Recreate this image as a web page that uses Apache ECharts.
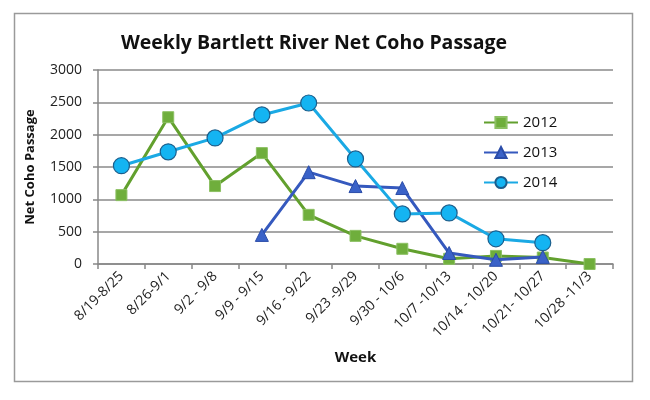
<!DOCTYPE html>
<html><head><meta charset="utf-8">
<script src="https://cdn.jsdelivr.net/npm/echarts@6/dist/echarts.min.js"></script>
<style>html,body{margin:0;padding:0;background:#fff}#c{width:650px;height:400px}</style>
</head><body><div id="c"></div>
<script>
const weeks = ['8/19-8/25','8/26-9/1','9/2 - 9/8','9/9 - 9/15','9/16 - 9/22','9/23 -9/29','9/30 - 10/6','10/7 -10/13','10/14 - 10/20','10/21- 10/27','10/28 -11/3'];
const y2012 = [1065, 2270, 1205, 1715, 760, 435, 235, 80, 125, 100, 0];
const y2013 = [null, null, null, 450, 1420, 1205, 1175, 170, 65, 110, null];
const y2014 = [1520, 1735, 1950, 2305, 2490, 1625, 775, 790, 390, 330, null];
const yTicks = [0, 500, 1000, 1500, 2000, 2500, 3000];

const chart = echarts.init(document.getElementById('c'));
const font = 'Open Sans';
chart.setOption({
  animation: false,
  backgroundColor: '#fff',
  textStyle: {fontFamily: font},
  title: {
    text: 'Weekly Bartlett River Net Coho Passage',
    left: 309, top: 28, textAlign: 'center',
    textStyle: {fontSize: 19.5, fontWeight: 'bold', color: '#111', fontFamily: font}
  },
  graphic: [{
    type: 'rect', shape: {x: 14.5, y: 13.5, width: 618, height: 368},
    style: {fill: 'none', stroke: '#9a9a9a', lineWidth: 1.5}, z: -1
  }],
  legend: {
    orient: 'vertical', left: 478, top: 110, itemGap: 15,
    itemWidth: 34, itemHeight: 14,
    textStyle: {fontSize: 15, color: '#111', fontFamily: font},
    data: ['2012', '2013', '2014']
  },
  grid: {left: 98, right: 37, top: 70, bottom: 136, containLabel: false},
  xAxis: {
    type: 'category', data: weeks, boundaryGap: true,
    name: 'Week', nameLocation: 'middle', nameGap: 86,
    nameTextStyle: {fontSize: 15, fontWeight: 'bold', color: '#111'},
    axisLine: {lineStyle: {color: '#888', width: 1.5}},
    axisTick: {show: true, length: 5, lineStyle: {color: '#888', width: 1.5}},
    axisLabel: {rotate: 45, fontSize: 14, color: '#222', margin: 10, interval: 0}
  },
  yAxis: {
    type: 'value', min: yTicks[0], max: yTicks[yTicks.length - 1], interval: 500,
    name: 'Net Coho Passage', nameLocation: 'middle', nameGap: 61,
    nameTextStyle: {fontSize: 13, fontWeight: 'bold', color: '#111'},
    axisLine: {show: true, lineStyle: {color: '#888', width: 1.5}},
    axisTick: {show: true, length: 5, lineStyle: {color: '#888', width: 1.5}},
    axisLabel: {fontSize: 14, color: '#222', margin: 16, formatter: v => String(v)},
    splitLine: {lineStyle: {color: '#8a8a8a', width: 1.5}}
  },
  series: [
    {name: '2012', type: 'line', data: y2012, symbol: 'rect', symbolSize: 11,
     lineStyle: {color: '#62A02E', width: 3}, itemStyle: {color: '#6FAE3C', borderColor: '#8CC063', borderWidth: 1},
     color: '#62A02E', z: 3},
    {name: '2013', type: 'line', data: y2013, symbol: 'triangle', symbolSize: 13,
     lineStyle: {color: '#3559BE', width: 3}, itemStyle: {color: '#3A62C8', borderColor: '#2A4CA8', borderWidth: 1},
     color: '#3559BE', z: 4},
    {name: '2014', type: 'line', data: y2014, symbol: 'circle', symbolSize: 16,
     lineStyle: {color: '#1AA9E4', width: 3}, itemStyle: {color: '#14B4F2', borderColor: '#1B5E8C', borderWidth: 1.2},
     color: '#1AA9E4', z: 5}
  ]
});
</script></body></html>
